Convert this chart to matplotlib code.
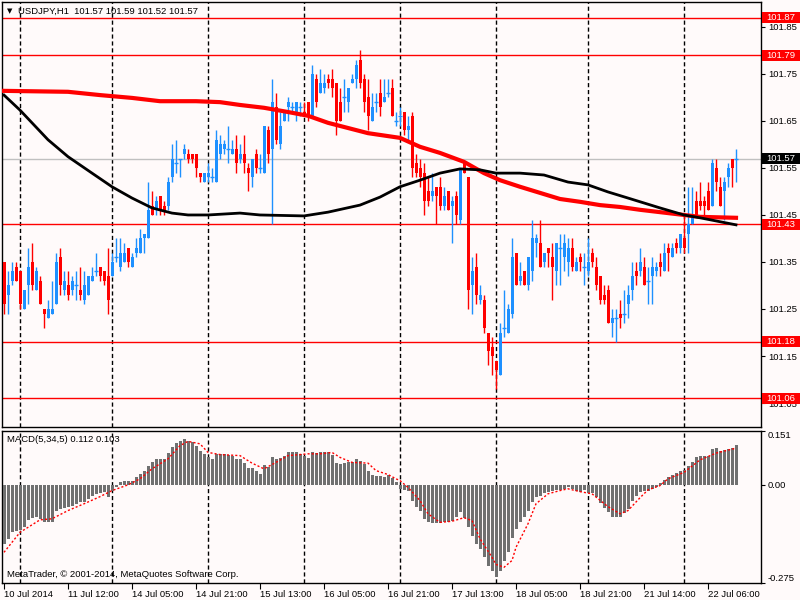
import matplotlib
matplotlib.use('Agg')
import matplotlib.pyplot as plt
from matplotlib.patches import Rectangle

plt.rcParams['font.family'] = ['Liberation Sans', 'DejaVu Sans']

# USDJPY H1 candles
opens = [
    101.35, 101.28, 101.31, 101.34, 101.33, 101.25, 101.30, 101.35, 101.29, 101.31,
    101.25, 101.23, 101.24, 101.26, 101.36, 101.29, 101.30, 101.29, 101.30, 101.29,
    101.27, 101.28, 101.31, 101.33, 101.34, 101.33, 101.32, 101.32, 101.36, 101.34,
    101.35, 101.38, 101.34, 101.37, 101.37, 101.40, 101.40, 101.47, 101.46, 101.49,
    101.47, 101.47, 101.53, 101.56, 101.57, 101.58, 101.58, 101.58, 101.58, 101.54,
    101.52, 101.53, 101.53, 101.52, 101.58, 101.59, 101.59, 101.58, 101.59, 101.57,
    101.58, 101.55, 101.53, 101.58, 101.55, 101.54, 101.63, 101.59, 101.68, 101.60,
    101.65, 101.68, 101.68, 101.67, 101.68, 101.67, 101.69, 101.66, 101.74, 101.71,
    101.72, 101.74, 101.74, 101.73, 101.69, 101.70, 101.69, 101.73, 101.74, 101.78,
    101.74, 101.70, 101.65, 101.69, 101.71, 101.69, 101.71, 101.72, 101.65, 101.66,
    101.67, 101.63, 101.66, 101.56, 101.55, 101.54, 101.50, 101.49, 101.51, 101.51,
    101.47, 101.50, 101.47, 101.49, 101.44, 101.56, 101.53, 101.30, 101.34, 101.27,
    101.27, 101.20, 101.17, 101.14, 101.11, 101.21, 101.20, 101.24, 101.37, 101.31,
    101.33, 101.30, 101.33, 101.39, 101.39, 101.35, 101.38, 101.36, 101.33, 101.38,
    101.36, 101.35, 101.38, 101.33, 101.36, 101.34, 101.33, 101.37, 101.34, 101.32,
    101.28, 101.29, 101.22, 101.23, 101.24, 101.24, 101.26, 101.29, 101.33, 101.33,
    101.34, 101.31, 101.32, 101.33, 101.35, 101.33, 101.38, 101.36, 101.39, 101.38,
    101.40, 101.41, 101.43, 101.48, 101.48, 101.48, 101.50, 101.47, 101.55, 101.51,
    101.50, 101.53, 101.57, 101.57,
]
highs = [
    101.35, 101.33, 101.35, 101.35, 101.33, 101.29, 101.38, 101.39, 101.34, 101.32,
    101.25, 101.27, 101.31, 101.37, 101.38, 101.33, 101.33, 101.32, 101.33, 101.34,
    101.33, 101.32, 101.34, 101.37, 101.34, 101.33, 101.38, 101.37, 101.40, 101.40,
    101.39, 101.38, 101.37, 101.40, 101.42, 101.41, 101.52, 101.50, 101.49, 101.49,
    101.48, 101.53, 101.60, 101.61, 101.57, 101.60, 101.59, 101.58, 101.58, 101.54,
    101.54, 101.56, 101.55, 101.63, 101.62, 101.61, 101.64, 101.61, 101.62, 101.60,
    101.62, 101.56, 101.57, 101.59, 101.58, 101.64, 101.64, 101.74, 101.71, 101.67,
    101.67, 101.70, 101.69, 101.69, 101.69, 101.69, 101.69, 101.77, 101.75, 101.76,
    101.75, 101.75, 101.76, 101.73, 101.72, 101.74, 101.72, 101.75, 101.78, 101.80,
    101.75, 101.74, 101.71, 101.71, 101.74, 101.74, 101.74, 101.74, 101.67, 101.68,
    101.67, 101.66, 101.67, 101.58, 101.57, 101.56, 101.53, 101.54, 101.51, 101.53,
    101.51, 101.50, 101.49, 101.50, 101.55, 101.56, 101.53, 101.36, 101.37, 101.30,
    101.28, 101.20, 101.19, 101.14, 101.22, 101.29, 101.26, 101.40, 101.37, 101.35,
    101.33, 101.36, 101.44, 101.41, 101.44, 101.37, 101.38, 101.39, 101.39, 101.41,
    101.41, 101.40, 101.40, 101.36, 101.37, 101.37, 101.40, 101.38, 101.36, 101.32,
    101.30, 101.30, 101.25, 101.25, 101.27, 101.29, 101.30, 101.35, 101.35, 101.38,
    101.36, 101.34, 101.36, 101.35, 101.37, 101.39, 101.39, 101.39, 101.40, 101.41,
    101.45, 101.51, 101.51, 101.50, 101.52, 101.49, 101.52, 101.57, 101.57, 101.53,
    101.53, 101.56, 101.57, 101.59,
]
lows = [
    101.24, 101.24, 101.30, 101.31, 101.25, 101.25, 101.26, 101.29, 101.29, 101.26,
    101.21, 101.23, 101.24, 101.26, 101.28, 101.28, 101.27, 101.28, 101.27, 101.27,
    101.26, 101.28, 101.31, 101.32, 101.31, 101.30, 101.24, 101.32, 101.35, 101.33,
    101.35, 101.34, 101.34, 101.36, 101.37, 101.37, 101.40, 101.45, 101.45, 101.45,
    101.45, 101.46, 101.52, 101.54, 101.53, 101.57, 101.56, 101.56, 101.53, 101.52,
    101.52, 101.52, 101.52, 101.52, 101.57, 101.58, 101.56, 101.58, 101.54, 101.56,
    101.54, 101.50, 101.51, 101.54, 101.54, 101.54, 101.56, 101.43, 101.60, 101.59,
    101.65, 101.65, 101.67, 101.65, 101.66, 101.66, 101.65, 101.66, 101.68, 101.71,
    101.71, 101.72, 101.70, 101.62, 101.65, 101.67, 101.67, 101.73, 101.72, 101.72,
    101.67, 101.63, 101.65, 101.67, 101.66, 101.69, 101.70, 101.66, 101.64, 101.64,
    101.62, 101.61, 101.53, 101.53, 101.51, 101.45, 101.47, 101.48, 101.43, 101.46,
    101.46, 101.46, 101.39, 101.43, 101.43, 101.54, 101.25, 101.24, 101.26, 101.26,
    101.20, 101.13, 101.11, 101.08, 101.11, 101.19, 101.20, 101.23, 101.30, 101.30,
    101.30, 101.29, 101.31, 101.36, 101.34, 101.34, 101.34, 101.27, 101.30, 101.30,
    101.33, 101.32, 101.33, 101.33, 101.33, 101.30, 101.32, 101.34, 101.29, 101.26,
    101.26, 101.22, 101.19, 101.18, 101.21, 101.22, 101.23, 101.27, 101.30, 101.32,
    101.30, 101.26, 101.26, 101.32, 101.32, 101.33, 101.33, 101.36, 101.37, 101.37,
    101.37, 101.37, 101.43, 101.45, 101.46, 101.45, 101.46, 101.47, 101.50, 101.47,
    101.44, 101.51, 101.51, 101.52,
]
closes = [
    101.26, 101.30, 101.33, 101.31, 101.26, 101.29, 101.34, 101.30, 101.33, 101.26,
    101.24, 101.25, 101.25, 101.35, 101.30, 101.31, 101.28, 101.31, 101.30, 101.28,
    101.30, 101.32, 101.32, 101.33, 101.32, 101.31, 101.27, 101.35, 101.36, 101.37,
    101.37, 101.35, 101.36, 101.38, 101.40, 101.41, 101.46, 101.45, 101.48, 101.46,
    101.46, 101.52, 101.57, 101.56, 101.57, 101.59, 101.57, 101.57, 101.55, 101.53,
    101.54, 101.54, 101.53, 101.61, 101.60, 101.60, 101.59, 101.59, 101.56, 101.58,
    101.56, 101.54, 101.57, 101.55, 101.55, 101.64, 101.58, 101.69, 101.61, 101.64,
    101.67, 101.69, 101.68, 101.69, 101.68, 101.66, 101.66, 101.75, 101.69, 101.73,
    101.73, 101.73, 101.72, 101.65, 101.65, 101.70, 101.72, 101.74, 101.77, 101.73,
    101.69, 101.66, 101.68, 101.69, 101.68, 101.70, 101.71, 101.66, 101.65, 101.66,
    101.63, 101.64, 101.55, 101.54, 101.53, 101.48, 101.48, 101.50, 101.49, 101.47,
    101.49, 101.46, 101.48, 101.45, 101.55, 101.54, 101.29, 101.33, 101.28, 101.28,
    101.21, 101.16, 101.15, 101.12, 101.20, 101.21, 101.25, 101.36, 101.30, 101.32,
    101.30, 101.36, 101.40, 101.40, 101.34, 101.37, 101.37, 101.34, 101.39, 101.38,
    101.39, 101.38, 101.34, 101.35, 101.35, 101.34, 101.35, 101.35, 101.30, 101.27,
    101.27, 101.22, 101.23, 101.23, 101.23, 101.24, 101.28, 101.32, 101.32, 101.35,
    101.30, 101.31, 101.34, 101.34, 101.34, 101.37, 101.37, 101.38, 101.38, 101.41,
    101.38, 101.43, 101.45, 101.45, 101.47, 101.47, 101.46, 101.56, 101.52, 101.47,
    101.52, 101.55, 101.55, 101.57,
]

# moving averages (read at sample bars)
ma_red_idx = [0, 16, 24, 32, 39, 48, 54, 59, 65, 71, 76, 81, 86, 91, 99, 104, 109,
              115, 120, 124, 129, 134, 139, 144, 149, 154, 159, 170, 174, 183]
ma_red_val = [101.714, 101.712, 101.705, 101.699, 101.692, 101.692, 101.690, 101.684,
              101.678, 101.669, 101.661, 101.646, 101.635, 101.624, 101.614, 101.595,
              101.582, 101.563, 101.539, 101.524, 101.510, 101.497, 101.484, 101.478,
              101.471, 101.467, 101.461, 101.450, 101.446, 101.444]
ma_black_idx = [0, 4, 11, 16, 22, 27, 32, 37, 42, 46, 51, 59, 64, 75, 81, 89, 94, 99,
                104, 109, 114, 119, 123, 129, 135, 141, 146, 151, 156, 164, 170, 174, 183]
ma_black_val = [101.705, 101.673, 101.610, 101.574, 101.539, 101.510, 101.486, 101.465,
                101.454, 101.450, 101.450, 101.454, 101.450, 101.448, 101.456, 101.471,
                101.488, 101.510, 101.524, 101.539, 101.548, 101.546, 101.539, 101.539,
                101.535, 101.520, 101.514, 101.499, 101.486, 101.465, 101.450, 101.444,
                101.429]

# MACD(5,34,5)
macd = [
    -0.165, -0.151, -0.133, -0.128, -0.126, -0.117, -0.098, -0.092, -0.089, -0.095,
    -0.105, -0.105, -0.105, -0.072, -0.067, -0.064, -0.063, -0.058, -0.053, -0.049,
    -0.049, -0.039, -0.030, -0.025, -0.023, -0.021, -0.035, -0.016, -0.007, 0.007,
    0.012, 0.012, 0.012, 0.021, 0.031, 0.038, 0.054, 0.063, 0.073, 0.073,
    0.073, 0.089, 0.107, 0.117, 0.122, 0.129, 0.124, 0.120, 0.110, 0.096,
    0.087, 0.079, 0.073, 0.087, 0.087, 0.087, 0.085, 0.082, 0.073, 0.073,
    0.061, 0.048, 0.048, 0.038, 0.031, 0.057, 0.051, 0.079, 0.073, 0.076,
    0.082, 0.091, 0.092, 0.091, 0.087, 0.082, 0.076, 0.092, 0.089, 0.092,
    0.092, 0.092, 0.085, 0.061, 0.059, 0.061, 0.063, 0.063, 0.073, 0.066,
    0.059, 0.038, 0.029, 0.026, 0.026, 0.023, 0.029, 0.020, 0.007, -0.011,
    -0.014, -0.016, -0.044, -0.061, -0.074, -0.095, -0.105, -0.107, -0.107, -0.107,
    -0.105, -0.105, -0.100, -0.089, -0.076, -0.092, -0.119, -0.142, -0.167, -0.179,
    -0.202, -0.228, -0.241, -0.257, -0.242, -0.214, -0.189, -0.148, -0.123, -0.105,
    -0.091, -0.074, -0.047, -0.033, -0.030, -0.023, -0.021, -0.016, -0.014, -0.014,
    -0.011, -0.007, -0.011, -0.016, -0.021, -0.014, -0.023, -0.023, -0.035, -0.051,
    -0.064, -0.076, -0.091, -0.091, -0.091, -0.079, -0.067, -0.044, -0.030, -0.019,
    -0.016, -0.016, -0.011, -0.005, 0.005, 0.014, 0.023, 0.029, 0.033, 0.040,
    0.042, 0.054, 0.063, 0.079, 0.082, 0.082, 0.082, 0.101, 0.104, 0.096,
    0.098, 0.101, 0.104, 0.112,
]
signal_idx = [0, 4, 9, 12, 16, 20, 24, 27, 31, 34, 37, 41, 44, 46, 49, 51, 54, 59, 62,
              65, 68, 71, 76, 79, 82, 84, 87, 91, 93, 96, 98, 99, 101, 104, 106, 109,
              112, 115, 117, 119, 122, 123, 125, 127, 128, 131, 133, 136, 139, 141,
              144, 147, 151, 154, 156, 159, 161, 164, 166, 170, 174, 178, 183]
signal_val = [-0.189, -0.133, -0.098, -0.095, -0.072, -0.053, -0.033, -0.016, 0.0,
              0.017, 0.045, 0.073, 0.110, 0.122, 0.115, 0.091, 0.085, 0.082, 0.061,
              0.045, 0.063, 0.082, 0.087, 0.087, 0.091, 0.077, 0.063, 0.061, 0.040,
              0.029, 0.017, 0.012, -0.007, -0.044, -0.081, -0.105, -0.102, -0.092,
              -0.100, -0.151, -0.203, -0.223, -0.231, -0.212, -0.175, -0.109, -0.053,
              -0.025, -0.016, -0.011, -0.019, -0.025, -0.061, -0.081, -0.072, -0.036,
              -0.014, -0.002, 0.017, 0.035, 0.070, 0.089, 0.103]

price_ticks = [101.05, 101.15, 101.25, 101.35, 101.45, 101.55, 101.65, 101.75, 101.85]
red_levels = [101.87, 101.79, 101.43, 101.18, 101.06]
bid = 101.57
time_pos = [0, 16, 32, 48, 64, 80, 96, 112, 128, 144, 160, 176]
time_labels = ['10 Jul 2014', '11 Jul 12:00', '14 Jul 05:00', '14 Jul 21:00',
               '15 Jul 13:00', '16 Jul 05:00', '16 Jul 21:00', '17 Jul 13:00',
               '18 Jul 05:00', '18 Jul 21:00', '21 Jul 14:00', '22 Jul 06:00']
grid_pos = [4, 27, 51, 75, 99, 123, 146, 170]

BG = '#fffafa'
BLUE = '#1e90ff'
RED = '#ff0000'
FS = 6.8

fig = plt.figure(figsize=(8, 6), dpi=100, facecolor=BG)
ax = fig.add_axes([2/800, 1 - 427/600, 759/800, 425/600], facecolor=BG)
ax2 = fig.add_axes([2/800, 1 - 583/600, 759/800, 152/600], facecolor=BG)

for a in (ax, ax2):
    for g in grid_pos:
        a.axvline(g, color='black', lw=1, ls=(0, (3, 2)), zorder=1)
    for s in a.spines.values():
        s.set_color('black')
        s.set_linewidth(1)
    a.set_xlim(-0.5, 189.25)

for lv in red_levels:
    ax.axhline(lv, color=RED, lw=1, zorder=2)
ax.axhline(bid, color='#c0c0c0', lw=1, zorder=2)

# candles
for i in range(len(opens)):
    o, h, l, c = opens[i], highs[i], lows[i], closes[i]
    col = BLUE if c >= o else RED
    ax.vlines(i, l, h, color=col, lw=1, zorder=3)
    if o == c:
        ax.hlines(o, i - 0.4, i + 0.4, color=col, lw=1, zorder=3)
    else:
        ax.bar(i, abs(c - o), bottom=min(o, c), width=0.75, color=col, lw=0, zorder=3)

ax.plot(ma_red_idx, ma_red_val, color=RED, lw=3, zorder=4)
ax.plot(ma_black_idx, ma_black_val, color='black', lw=2, zorder=4)

ax.set_ylim(100.999, 101.903)
ax.yaxis.tick_right()
ax.set_yticks(price_ticks)
ax.set_yticklabels(['%.2f' % t for t in price_ticks])
ax.tick_params(axis='y', labelsize=FS, length=3, pad=2, colors='black')
ax.set_xticks([])

# price boxes on the scale
ytr = ax.get_yaxis_transform()
box_h = 5.5 / 470
for lv, fc in [(v, RED) for v in red_levels] + [(bid, 'black')]:
    ax.add_patch(Rectangle((1.0013, lv - box_h), 0.051, 2 * box_h, transform=ytr,
                           facecolor=fc, edgecolor='none', clip_on=False, zorder=6))
    ax.text(1.0075, lv, '%.2f' % lv, transform=ytr, color='white', fontsize=FS,
            va='center', ha='left', zorder=7)

ax.text(0.006, 0.979, '\u25bc', transform=ax.transAxes, fontsize=5,
        va='center', ha='left', family=['DejaVu Sans'])
ax.text(0.021, 0.979, 'USDJPY,H1  101.57 101.59 101.52 101.57', transform=ax.transAxes,
        fontsize=FS, va='center', ha='left')

# MACD panel
ax2.bar(range(len(macd)), macd, width=0.75, color='#707070', lw=0, zorder=3)
ax2.plot(signal_idx, signal_val, color=RED, lw=1, ls=(0, (1.5, 1.5)), zorder=4)
ax2.set_ylim(-0.275, 0.151)
ax2.yaxis.tick_right()
ax2.set_yticks([-0.275, 0.0, 0.151])
ax2.set_yticklabels(['-0.275', '0.00', '0.151'])
ax2.tick_params(axis='y', labelsize=FS, length=3, pad=2)
ylabels = ax2.get_yticklabels()
ylabels[0].set_va('bottom')
ylabels[2].set_va('top')
ax2.set_xticks(time_pos)
ax2.set_xticklabels(time_labels, ha='left')
ax2.tick_params(axis='x', labelsize=FS, length=4, pad=1)

ax2.text(0.007, 0.947, 'MACD(5,34,5) 0.112 0.103', transform=ax2.transAxes,
         fontsize=FS, va='center', ha='left')
ax2.text(0.007, 0.055, 'MetaTrader, \u00a9 2001-2014, MetaQuotes Software Corp.',
         transform=ax2.transAxes, fontsize=FS, va='center', ha='left')

fig.savefig('out.png', dpi=100, facecolor=BG)
